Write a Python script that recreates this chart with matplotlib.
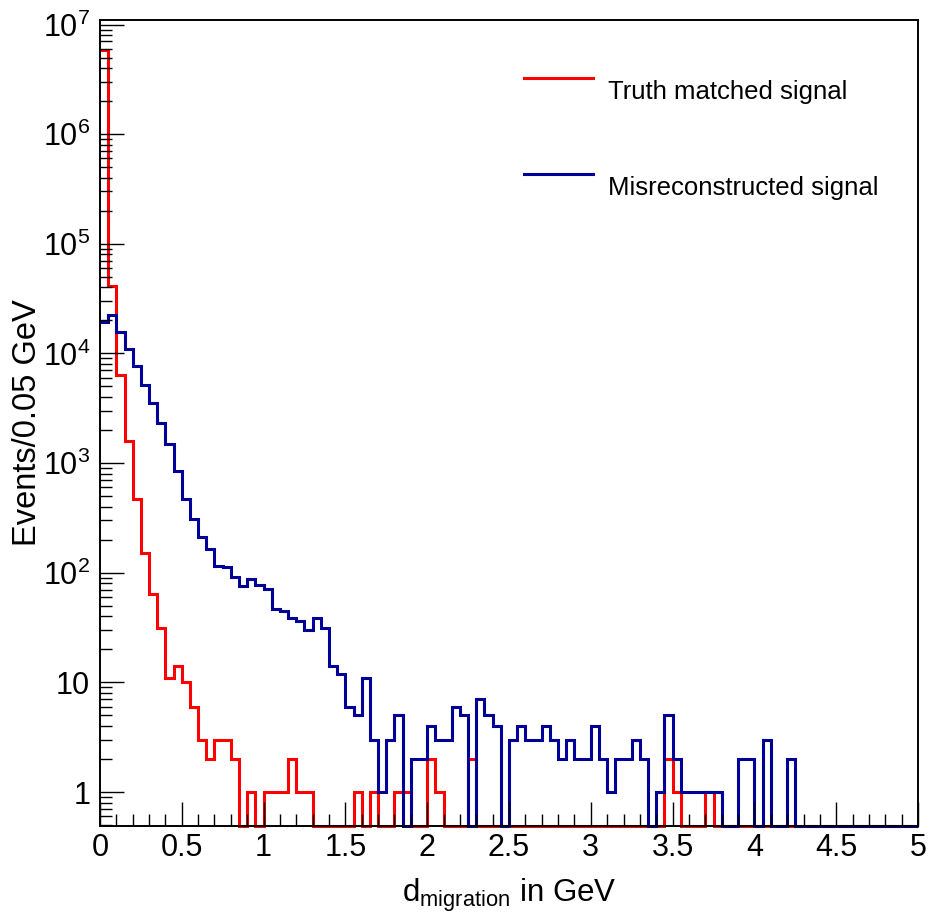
import numpy as np
import matplotlib
matplotlib.use("Agg")
import matplotlib.pyplot as plt
from matplotlib.ticker import FixedLocator, FixedFormatter, MultipleLocator, LogLocator, NullFormatter

plt.rcParams['font.family'] = ['Liberation Sans', 'DejaVu Sans']
plt.rcParams['mathtext.fontset'] = 'custom'
plt.rcParams['mathtext.rm'] = 'Liberation Sans'
plt.rcParams['mathtext.it'] = 'Liberation Sans:italic'

# histogram: 100 bins of 0.05 GeV from 0 to 5
bin_edges = np.linspace(0, 5, 101)

truth_matched = [5.9e6, 4.1e4, 6.4e3, 1.6e3, 470, 150, 64, 31, 11, 14,
                 10, 6, 3, 2, 3, 3, 2, 0, 1, 0,
                 1, 1, 1, 2, 1, 1, 0, 0, 0, 0,
                 0, 1, 0, 1, 0, 0, 1, 1, 0, 0,
                 2, 1, 0, 0, 0, 2, 0, 0, 0, 0,
                 0, 0, 0, 0, 0, 0, 0, 0, 0, 0,
                 0, 0, 0, 0, 0, 0, 0, 0, 0, 2,
                 1, 0, 0, 0, 1, 0, 0, 0, 0, 0,
                 0, 0, 0, 0, 0, 0, 0, 0, 0, 0,
                 0, 0, 0, 0, 0, 0, 0, 0, 0, 0]

misreconstructed = [19500, 22500, 15800, 10900, 7700, 5170, 3520, 2340, 1490, 855,
                    471, 312, 212, 166, 115, 112, 92, 76, 88, 77,
                    71, 47, 45, 39, 36, 30, 39, 31, 14, 12,
                    6, 5, 11, 3, 1, 3, 5, 0, 2, 2,
                    4, 3, 3, 6, 5, 0, 7, 5, 4, 0,
                    3, 4, 3, 3, 4, 3, 2, 3, 2, 2,
                    4, 2, 1, 2, 2, 3, 2, 0, 1, 5,
                    2, 1, 1, 1, 1, 1, 0, 0, 2, 2,
                    0, 3, 0, 0, 2, 0, 0, 0, 0, 0,
                    0, 0, 0, 0, 0, 0, 0, 0, 0, 0]

labels = ["Truth matched signal", "Misreconstructed signal"]
colors = ["#ff0000", "#000099"]

x_ticks = [0, 0.5, 1, 1.5, 2, 2.5, 3, 3.5, 4, 4.5, 5]
x_ticklabels = ["0", "0.5", "1", "1.5", "2", "2.5", "3", "3.5", "4", "4.5", "5"]
y_ticks = [1, 10, 1e2, 1e3, 1e4, 1e5, 1e6, 1e7]
y_ticklabels = ["1", "10", r"$10^{2}$", r"$10^{3}$", r"$10^{4}$", r"$10^{5}$", r"$10^{6}$", r"$10^{7}$"]

ymin, ymax = 0.493, 1.1e7

fig = plt.figure(figsize=(9.29, 9.16), dpi=100)
ax = fig.add_axes([0.1076, 0.0986, 0.8806, 0.8796])

# empty bins are drawn along the bottom of the frame, like ROOT does
for vals, col in zip([truth_matched, misreconstructed], colors):
    v = np.array(vals, dtype=float)
    v = np.where(v > 0, v, ymin)
    ax.stairs(v, bin_edges, baseline=None, color=col, linewidth=2.2, clip_on=False)

ax.set_yscale('log')
ax.set_xlim(0, 5)
ax.set_ylim(ymin, ymax)

ax.xaxis.set_major_locator(FixedLocator(x_ticks))
ax.xaxis.set_major_formatter(FixedFormatter(x_ticklabels))
ax.xaxis.set_minor_locator(MultipleLocator(0.1))
ax.yaxis.set_major_locator(FixedLocator(y_ticks))
ax.yaxis.set_major_formatter(FixedFormatter(y_ticklabels))
ax.yaxis.set_minor_locator(LogLocator(base=10, subs=np.arange(2, 10), numticks=50))
ax.yaxis.set_minor_formatter(NullFormatter())

ax.tick_params(which='both', direction='in', top=False, right=False, labelsize=22, width=1.0)
ax.tick_params(which='major', length=17)
ax.tick_params(which='minor', length=8.5)
ax.tick_params(axis='x', pad=5)
ax.tick_params(axis='y', pad=7)
for s in ax.spines.values():
    s.set_linewidth(1.4)

ax.set_xlabel(r"d$_{\mathregular{migration}}$ in GeV", fontsize=22.5, labelpad=10)
ax.set_ylabel("Events/0.05 GeV", fontsize=23.5, labelpad=0)

# legend drawn by hand, ROOT style
leg_y = [0.928, 0.809]
for yl, lab, col in zip(leg_y, labels, colors):
    ax.plot([0.518, 0.603], [yl, yl], color=col, linewidth=2.2, transform=ax.transAxes)
    ax.text(0.621, yl - 0.018, lab, fontsize=18.5, va='center', ha='left', transform=ax.transAxes)

fig.savefig("out.png", dpi=100)
